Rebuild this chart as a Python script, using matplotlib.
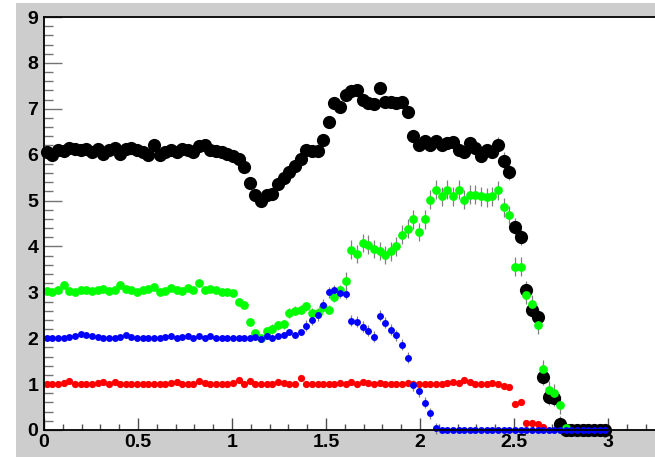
import numpy as np
import matplotlib
matplotlib.use("Agg")
import matplotlib.pyplot as plt
from matplotlib.patches import Rectangle
from matplotlib.ticker import MultipleLocator

# 100 bins between 0 and 3, one point per bin centre
x = np.linspace(0.015, 2.985, 100)

black = [
    6.05, 6.0, 6.1, 6.08, 6.15, 6.12, 6.1, 6.12, 6.05, 6.12,
    6.02, 6.1, 6.15, 6.02, 6.12, 6.15, 6.1, 6.05, 6.0, 6.22,
    6.0, 6.05, 6.1, 6.05, 6.12, 6.1, 6.05, 6.18, 6.2, 6.1,
    6.08, 6.05, 6.02, 5.98, 5.9, 5.74, 5.39, 5.13, 4.98, 5.13,
    5.15, 5.37, 5.5, 5.63, 5.76, 5.9, 6.11, 6.07, 6.07, 6.33,
    6.72, 7.12, 7.03, 7.3, 7.38, 7.42, 7.2, 7.12, 7.1, 7.45,
    7.15, 7.15, 7.12, 7.15, 6.92, 6.4, 6.2, 6.3, 6.22, 6.3,
    6.2, 6.25, 6.28, 6.1, 6.05, 6.25, 6.15, 5.98, 6.1, 6.05,
    6.2, 5.87, 5.63, 4.43, 4.21, 3.06, 2.62, 2.47, 1.16, 0.72,
    0.70, 0.13, 0.0, 0.0, 0.0, 0.0, 0.0, 0.0, 0.0, 0.0,
]
# empty green bins at the end are not drawn
green = [
    3.02, 3.0, 3.05, 3.15, 3.02, 3.0, 3.05, 3.05, 3.03, 3.05,
    3.08, 3.02, 3.05, 3.17, 3.08, 3.05, 3.0, 3.05, 3.08, 3.12,
    3.0, 3.02, 3.1, 3.05, 3.02, 3.1, 3.05, 3.2, 3.05, 3.08,
    3.05, 3.0, 3.0, 2.98, 2.8, 2.72, 2.35, 2.12, 2.0, 2.15,
    2.2, 2.28, 2.3, 2.55, 2.6, 2.62, 2.7, 2.55, 2.55, 2.68,
    2.62, 2.9, 3.05, 3.25, 3.93, 3.84, 4.08, 4.04, 3.95, 3.9,
    3.82, 3.89, 4.0, 4.26, 4.39, 4.59, 4.32, 4.59, 5.02, 5.24,
    5.09, 5.24, 5.09, 5.24, 5.02, 5.13, 5.13, 5.09, 5.07, 5.09,
    5.22, 4.85, 4.69, 3.56, 3.56, 2.95, 2.75, 2.29, 1.33, 0.87,
    0.8, 0.55, 0.04, None, None, None, None, None, None, None,
]
blue = [
    2.0, 2.0, 2.0, 2.0, 2.02, 2.05, 2.1, 2.07, 2.05, 2.02,
    2.0, 2.0, 2.0, 2.02, 2.08, 2.02, 2.0, 2.0, 2.0, 2.0,
    2.0, 2.02, 2.05, 2.0, 2.02, 2.05, 2.0, 2.05, 2.0, 2.04,
    2.0, 2.0, 2.0, 2.0, 2.0, 2.0, 2.0, 2.03, 1.98, 2.05,
    2.0, 2.04, 2.07, 2.14, 2.07, 2.14, 2.27, 2.4, 2.5, 2.73,
    3.0, 3.05, 2.99, 2.97, 2.38, 2.36, 2.25, 2.16, 2.03, 2.49,
    2.34, 2.18, 2.07, 1.86, 1.57, 0.98, 0.85, 0.59, 0.37, 0.04,
] + [0.0] * 30
red = [
    1.0, 1.0, 1.0, 1.02, 1.06, 1.0, 1.0, 1.0, 1.0, 1.02,
    1.04, 1.0, 1.05, 1.0, 1.0, 1.0, 1.0, 1.0, 1.0, 1.0,
    1.0, 1.0, 1.02, 1.04, 1.0, 1.0, 1.0, 1.07, 1.02, 1.0,
    1.0, 1.0, 1.0, 1.02, 1.1, 1.0, 1.07, 1.0, 1.0, 1.0,
    1.0, 1.05, 1.02, 1.0, 1.0, 1.13, 1.0, 1.0, 1.0, 1.0,
    1.0, 1.0, 1.02, 1.0, 1.05, 1.0, 1.05, 1.02, 1.0, 1.03,
    1.0, 1.0, 1.0, 1.0, 1.02, 1.0, 1.0, 1.0, 1.0, 1.0,
    1.0, 1.02, 1.05, 1.03, 1.08, 1.05, 1.0, 1.0, 1.0, 1.02,
    1.0, 0.95, 0.93, 0.57, 0.6, 0.15, 0.15, 0.13, 0.07, None,
] + [None] * 10

# rough error sizes, mostly hidden behind the markers
black_err = [0.05] * 80 + [0.18] * 12 + [0.0] * 8
green_err = [0.05] * 40 + [0.1] * 13 + [0.2] * 39 + [0.0] * 8
blue_err = [0.04] * 46 + [0.12] * 24 + [0.0] * 30
red_err = [0.03] * 100

xticks = [0, 0.5, 1, 1.5, 2, 2.5, 3]
xticklabels = ["0", "0.5", "1", "1.5", "2", "2.5", "3"]
yticks = list(range(10))

W, H = 655, 457
fig = plt.figure(figsize=(W / 100, H / 100), dpi=100, facecolor="white")
fig.patches.append(Rectangle((16 / W, 0), 1, 1 - 3 / H, transform=fig.transFigure,
                             facecolor="#cdcdcd", edgecolor="none", zorder=-10))

left, right, top, bottom = 44, 44 + 3.3 * 188, 17, 430
ax = fig.add_axes([left / W, (H - bottom) / H, (right - left) / W, (bottom - top) / H])
ax.set_facecolor("white")
ax.set_xlim(0, 3.3)
ax.set_ylim(0, 9)

series = [
    (black, black_err, "black", 9.5),
    (red, red_err, "#ff0000", 5.2),
    (green, green_err, "#00ff00", 6.3),
    (blue, blue_err, "#0000ff", 5.0),
]
for vals, err, col, ms in series:
    v = np.array([np.nan if a is None else a for a in vals], dtype=float)
    ax.errorbar(x, v, yerr=err, fmt="o", color=col, ms=ms, mec=col, mew=0,
                ecolor="0.5", elinewidth=0.9, capsize=0, clip_on=False)

ax.spines["right"].set_visible(False)
for s in ("left", "bottom", "top"):
    ax.spines[s].set_linewidth(1.3)
    ax.spines[s].set_color("black")

ax.set_xticks(xticks)
ax.set_xticklabels(xticklabels)
ax.xaxis.set_minor_locator(MultipleLocator(0.1))
ax.set_yticks(yticks)
ax.yaxis.set_minor_locator(MultipleLocator(0.2))

ax.tick_params(axis="x", which="major", direction="in", length=8.5, width=1, color="0.3", pad=3, top=False)
ax.tick_params(axis="x", which="minor", direction="in", length=4, width=1, color="0.3", top=False)
ax.tick_params(axis="y", which="major", direction="in", length=13, width=1, color="0.45", pad=4, right=False)
ax.tick_params(axis="y", which="minor", direction="in", length=6.5, width=1, color="0.45", right=False)

for lab in ax.get_xticklabels() + ax.get_yticklabels():
    lab.set_fontfamily("Liberation Sans")
    lab.set_fontweight("bold")
    lab.set_fontsize(14)

fig.savefig("out.png", dpi=100, facecolor="white")
